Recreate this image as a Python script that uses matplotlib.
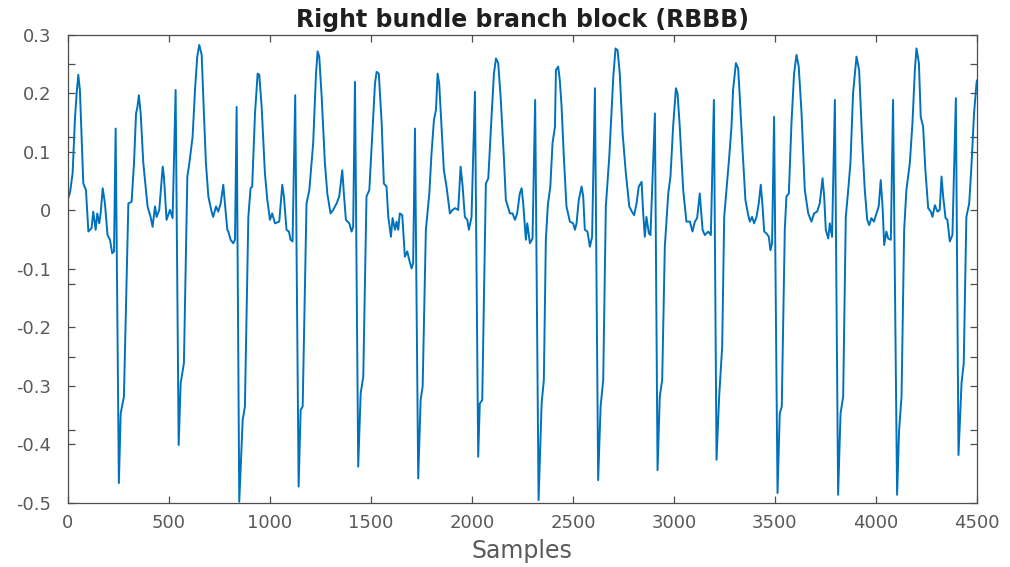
import matplotlib
matplotlib.use("Agg")
import matplotlib.pyplot as plt

# ECG lead trace, vertices sampled along the recording (sample index, mV)
samples = [
    0, 10, 23, 35, 43, 51, 59, 76, 89, 101, 117, 125, 137, 145, 155, 162, 172, 183,
    196, 208, 219, 228, 236, 252, 261, 277, 299, 315, 327, 337, 343, 351, 360, 373,
    394, 409, 419, 431, 439, 452, 469, 475, 488, 505, 518, 533, 548, 558, 574, 591,
    601, 617, 629, 640, 650, 662, 673, 683, 695, 711, 719, 733, 744, 756, 769, 777,
    789, 794, 805, 818, 827, 835, 848, 865, 876, 893, 904, 912, 926, 939, 947, 959,
    975, 987, 1000, 1011, 1025, 1046, 1061, 1069, 1082, 1094, 1102, 1112, 1125, 1142,
    1152, 1162, 1181, 1195, 1214, 1228, 1236, 1244, 1256, 1272, 1284, 1300, 1313, 1330,
    1343, 1358, 1366, 1376, 1393, 1404, 1412, 1421, 1437, 1449, 1462, 1478, 1492, 1508,
    1520, 1528, 1539, 1553, 1564, 1577, 1586, 1599, 1607, 1619, 1627, 1635, 1643, 1655,
    1668, 1680, 1690, 1701, 1709, 1718, 1734, 1746, 1756, 1772, 1789, 1800, 1812, 1822,
    1830, 1838, 1850, 1861, 1874, 1891, 1904, 1916, 1932, 1944, 1954, 1965, 1977, 1985,
    1998, 2015, 2031, 2039, 2051, 2069, 2081, 2097, 2109, 2119, 2130, 2142, 2158, 2168,
    2188, 2201, 2213, 2224, 2237, 2246, 2254, 2267, 2274, 2287, 2300, 2313, 2330, 2345,
    2356, 2366, 2376, 2388, 2399, 2411, 2416, 2427, 2435, 2444, 2455, 2468, 2485, 2501,
    2510, 2518, 2529, 2543, 2551, 2559, 2572, 2584, 2595, 2609, 2625, 2637, 2650, 2663,
    2680, 2691, 2700, 2711, 2721, 2732, 2746, 2762, 2779, 2792, 2803, 2815, 2826, 2840,
    2848, 2856, 2864, 2876, 2884, 2906, 2919, 2930, 2942, 2955, 2972, 2983, 2996, 3010,
    3018, 3029, 3046, 3062, 3079, 3092, 3104, 3115, 3128, 3142, 3153, 3170, 3183, 3198,
    3211, 3224, 3239, 3249, 3260, 3274, 3285, 3293, 3307, 3318, 3326, 3340, 3354, 3368,
    3376, 3387, 3397, 3409, 3420, 3430, 3439, 3447, 3458, 3470, 3478, 3486, 3496, 3513,
    3524, 3534, 3549, 3557, 3569, 3582, 3595, 3607, 3618, 3632, 3648, 3665, 3681, 3694,
    3709, 3722, 3736, 3744, 3752, 3764, 3772, 3783, 3797, 3813, 3825, 3838, 3851, 3863,
    3874, 3887, 3904, 3917, 3932, 3945, 3957, 3967, 3978, 3990, 4003, 4014, 4024, 4033,
    4041, 4052, 4061, 4074, 4085, 4105, 4115, 4127, 4140, 4151, 4168, 4181, 4193, 4201,
    4213, 4222, 4234, 4245, 4259, 4272, 4280, 4292, 4305, 4316, 4325, 4333, 4345, 4354,
    4366, 4379, 4396, 4409, 4424, 4435, 4448, 4462, 4473, 4486, 4498, 4500,
]
amplitude = [
    0.020, 0.030, 0.064, 0.160, 0.200, 0.232, 0.206, 0.046, 0.035, -0.036, -0.030, -0.002, -0.033, -0.005, -0.022, -0.004, 0.038, 0.012,
    -0.042, -0.050, -0.073, -0.070, 0.140, -0.466, -0.347, -0.318, 0.012, 0.015, 0.081, 0.166, 0.175, 0.197, 0.166, 0.081,
    0.007, -0.011, -0.028, 0.007, -0.011, 0.001, 0.075, 0.058, -0.016, 0.001, -0.013, 0.206, -0.401, -0.295, -0.261, 0.058,
    0.081, 0.126, 0.206, 0.263, 0.283, 0.266, 0.166, 0.081, 0.024, -0.002, -0.011, 0.007, -0.002, 0.012, 0.044, 0.012,
    -0.033, -0.036, -0.050, -0.056, -0.050, 0.177, -0.498, -0.358, -0.335, -0.011, 0.038, 0.041, 0.166, 0.234, 0.232, 0.177,
    0.064, 0.018, -0.016, -0.005, -0.022, -0.019, 0.044, 0.024, -0.033, -0.036, -0.050, -0.053, 0.197, -0.472,
    -0.341, -0.335, 0.012, 0.035, 0.115, 0.234, 0.272, 0.263, 0.195, 0.081, 0.029, -0.005, 0.001, 0.012,
    0.024, 0.069, 0.029, -0.016, -0.022, -0.036, -0.028, 0.220, -0.438, -0.313, -0.284, 0.024, 0.035, 0.138,
    0.217, 0.237, 0.234, 0.150, 0.046, 0.041, -0.011, -0.045, -0.013, -0.033, -0.019, -0.033, -0.005, -0.008,
    -0.079, -0.070, -0.085, -0.099, -0.090, 0.140, -0.458, -0.324, -0.301, -0.033, 0.029, 0.098, 0.155, 0.172,
    0.234, 0.217, 0.138, 0.069, 0.041, -0.005, 0.001, 0.004, 0.001, 0.075, 0.041, -0.011, -0.016, -0.033,
    -0.011, 0.203, -0.421, -0.330, -0.324, 0.046, 0.055, 0.160, 0.234, 0.260, 0.252, 0.195, 0.092, 0.018,
    -0.005, -0.005, -0.016, -0.005, 0.029, 0.038, 0.012, -0.050, -0.022, -0.056, -0.048, 0.189, -0.495, -0.330,
    -0.290, -0.050, 0.010, 0.040, 0.115, 0.143, 0.240, 0.246, 0.223, 0.177, 0.092, 0.007, -0.019, -0.022,
    -0.033, -0.022, 0.018, 0.041, 0.024, -0.033, -0.036, -0.062, -0.045, 0.209, -0.461, -0.335, -0.290, 0.007,
    0.092, 0.166, 0.229, 0.277, 0.274, 0.234, 0.132, 0.064, 0.007, -0.002, -0.008, 0.012, 0.041, 0.049,
    -0.005, -0.045, -0.011, -0.039, -0.042, 0.166, -0.444, -0.318, -0.290, -0.062, 0.029, 0.058, 0.143, 0.209,
    0.200, 0.143, 0.035, -0.019, -0.019, -0.036, -0.019, -0.013, 0.029, -0.033, -0.042, -0.036, -0.042, 0.189,
    -0.426, -0.318, -0.233, -0.011, 0.035, 0.092, 0.143, 0.206, 0.252, 0.243, 0.195, 0.103, 0.018, -0.008,
    -0.019, -0.011, -0.022, -0.011, 0.012, 0.044, 0.007, -0.036, -0.039, -0.045, -0.068, -0.056, 0.160, -0.483,
    -0.347, -0.335, -0.033, 0.024, 0.029, 0.149, 0.234, 0.266, 0.246, 0.166, 0.035, -0.005, -0.019, -0.005,
    -0.002, 0.012, 0.055, 0.024, -0.033, -0.048, -0.022, -0.045, 0.189, -0.486, -0.347, -0.318, -0.011, 0.035,
    0.081, 0.200, 0.263, 0.240, 0.120, 0.035, -0.016, -0.025, -0.013, -0.019, -0.005, 0.007, 0.052, 0.007,
    -0.059, -0.036, -0.048, -0.050, 0.189, -0.486, -0.375, -0.318, -0.033, 0.035, 0.081, 0.149, 0.240, 0.277,
    0.252, 0.160, 0.143, 0.069, 0.004, -0.002, -0.011, 0.009, -0.002, 0.001, 0.058, 0.024, -0.013, -0.016,
    -0.053, -0.042, 0.192, -0.418, -0.295, -0.261, -0.011, 0.012, 0.075, 0.166, 0.217, 0.222,
]

x_ticks = [0, 500, 1000, 1500, 2000, 2500, 3000, 3500, 4000, 4500]
y_ticks = [-0.5, -0.4, -0.3, -0.2, -0.1, 0, 0.1, 0.2, 0.3]
y_tick_labels = ["-0.5", "-0.4", "-0.3", "-0.2", "-0.1", "0", "0.1", "0.2", "0.3"]
y_minor_ticks = [-0.375, -0.25, -0.125, 0.125, 0.25]

plt.rcParams["font.family"] = ["DejaVu Sans"]
plt.rcParams["axes.unicode_minus"] = False

fig = plt.figure(figsize=(10.1, 5.67), dpi=100)
ax = fig.add_axes([0.0673, 0.1129, 0.8999, 0.8254])

ax.plot(samples, amplitude, color="#0072BD", lw=1.4)

ax.set_xlim(0, 4500)
ax.set_ylim(-0.5, 0.3)
ax.set_xticks(x_ticks)
ax.set_xticklabels([str(t) for t in x_ticks])
ax.set_yticks(y_ticks)
ax.set_yticklabels(y_tick_labels)
ax.set_yticks(y_minor_ticks, minor=True)

ax.tick_params(which="both", direction="in", top=True, right=True,
               color="#4d4d4d", width=0.9)
ax.tick_params(which="major", length=5, labelsize=13, labelcolor="#595959")
ax.tick_params(axis="x", which="major", pad=8)
ax.tick_params(axis="y", which="major", pad=12)
ax.tick_params(which="minor", length=5)
for side in ax.spines.values():
    side.set_color("#4d4d4d")
    side.set_linewidth(0.9)

ax.set_title("Right bundle branch block (RBBB)", fontsize=17, fontweight="bold",
             color="#1f1f1f", pad=6)
ax.set_xlabel("Samples", fontsize=17, color="#595959", labelpad=5)

fig.savefig("out.png", dpi=100)
